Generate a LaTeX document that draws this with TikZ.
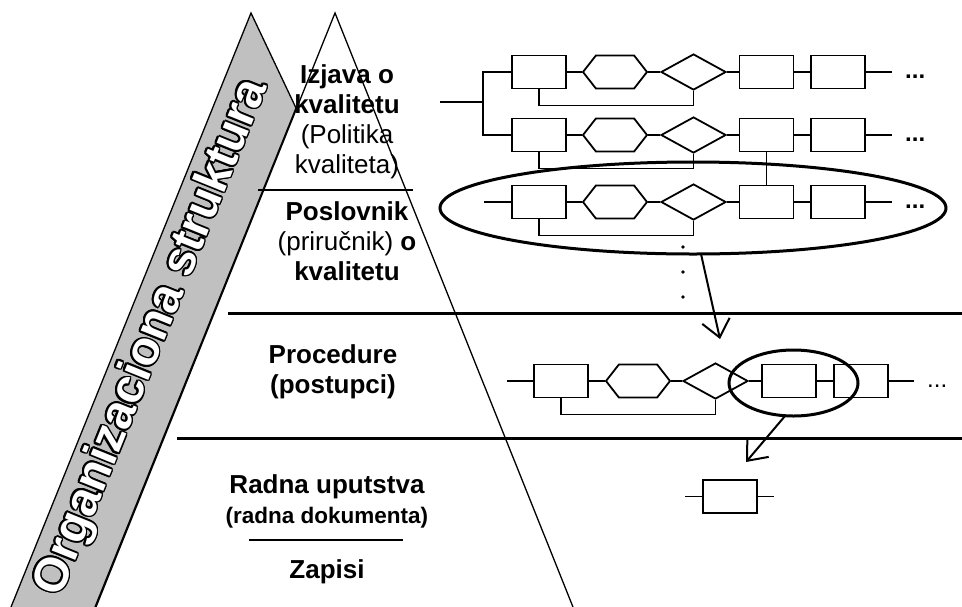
\documentclass[tikz,border=0pt]{standalone}
\usepackage{fontspec}
\setmainfont{Liberation Sans}
\usepackage{contour}
\contourlength{1.7pt}
\usetikzlibrary{shapes.geometric,shapes.symbols,arrows.meta}

\definecolor{bannergray}{RGB}{192,192,192}

\begin{document}
\begin{tikzpicture}[x=1pt,y=-1pt,
  thinline/.style={line width=1.3pt},
  thickline/.style={line width=3pt},
  flow/.style={line width=1.8pt},
  procbox/.style={draw, flow, rectangle, minimum width=54pt, minimum height=33pt, inner sep=0pt},
  hexbox/.style={draw, flow, signal, signal to=east and west, signal pointer angle=104,
                 minimum width=64pt, minimum height=33pt, inner sep=0pt},
  decbox/.style={draw, flow, diamond, minimum width=65pt, minimum height=36pt, inner sep=0pt},
  ring/.style={draw, ellipse, line width=3pt, inner sep=0pt},
  zoomarrow/.style={line width=2pt, -{Straight Barb[length=17pt,width=28pt,line width=2pt]}},
  % multi-line titles are placed by the baseline of their last line
  level/.style={font=\fontsize{26}{30}\selectfont, align=center, inner sep=0pt, anchor=base},
  more/.style={font=\fontsize{24}{24}\selectfont\bfseries, inner sep=0pt, anchor=base west},
]
\useasboundingbox (0,0) rectangle (962,606);

% pyramid of documentation levels
\coordinate (apex) at (335,13);
\coordinate (pyrL) at (94,612);
\coordinate (pyrR) at (575,612);
\draw[thinline] (pyrL) -- (apex) -- (pyrR);

% organisational structure banner
\draw[thinline, fill=bannergray] (251,13) -- (296,108) -- (93,612) -- (9,612) -- cycle;
\node[rotate=68, text=white, inner sep=0pt,
      font=\fontsize{48}{48}\selectfont\bfseries] (org) at (153,338)
      {\contour{black}{Organizaciona struktura}};

% level separators
\draw[thinline]  (258,190) -- (413,190);
\draw[thickline] (228,313) -- (962,313);
\draw[thickline] (177,438) -- (962,438);
\draw[thinline]  (249,540) -- (403,540);

% level titles
\node[level] (izjava) at (347,173)
  {{\bfseries Izjava o}\\{\bfseries kvalitetu}\\(Politika\\kvaliteta)};
\node[level] (poslovnik) at (347,280)
  {{\bfseries Poslovnik}\\(priručnik) {\bfseries o}\\{\bfseries kvalitetu}};
\node[level] (procedure) at (333,393)
  {{\bfseries Procedure}\\{\bfseries (postupci)}};
\node[level] (radna) at (327,523)
  {{\bfseries Radna uputstva}\\{\fontsize{22.5}{27}\selectfont\bfseries (radna dokumenta)}};
\node[level] (zapisi) at (327,578) {\bfseries Zapisi};

% process chains of the quality manual
\foreach \k/\y in {a/72,b/135,c/202}{
  \node[procbox] (s1\k) at (539,\y) {};
  \node[hexbox]  (s2\k) at (615,\y) {};
  \node[decbox]  (s3\k) at (693.5,\y) {};
  \node[procbox] (s4\k) at (766.5,\y) {};
  \node[procbox] (s5\k) at (838,\y) {};
  \coordinate (end\k) at (892,\y);
  \draw[flow] (s1\k.east) -- (s2\k.west) (s2\k.east) -- (s3\k.west)
              (s3\k.east) -- (s4\k.west) (s4\k.east) -- (s5\k.west)
              (s5\k.east) -- (end\k);
  \draw[flow] (s1\k.south) -- ++(0,16) -| (s3\k.south);
  \node[more] (more\k) at (905,\y+6.5) {...};
}
\coordinate (src) at (440,102);
\coordinate (bus) at (484,102);
\coordinate (inc) at (484,202);
\draw[flow] (src) -- (bus);
\draw[flow] (s1a.west) -- ++(-28,0) |- (s1b.west);
\draw[flow] (inc) -- (s1c.west);
\draw[flow] (s4b.south) -- (s4c.north);

% selected chain
\node[ring, minimum width=506pt, minimum height=92pt] (zoomA) at (693,208) {};
\fill (683,247) circle (1.8pt) (683,272) circle (1.8pt) (683,297) circle (1.8pt);
\coordinate (a1s) at (701,254);
\coordinate (a1e) at (720,339);
\draw[zoomarrow] (a1s) -- (a1e);

% procedure chain
\node[procbox] (p1) at (561,381) {};
\node[hexbox]  (p2) at (638,381) {};
\node[decbox]  (p3) at (715.5,381) {};
\node[procbox] (p4) at (789,381) {};
\node[procbox] (p5) at (861,381) {};
\coordinate (pin) at (507,381);
\coordinate (pend) at (914,381);
\draw[flow] (pin) -- (p1.west) (p1.east) -- (p2.west) (p2.east) -- (p3.west)
            (p3.east) -- (p4.west) (p4.east) -- (p5.west) (p5.east) -- (pend);
\draw[flow] (p1.south) -- ++(0,16) -| (p3.south);
\node[font=\fontsize{24}{24}\selectfont, inner sep=0pt, anchor=base west] (pmore) at (927,387) {...};

\node[ring, minimum width=129pt, minimum height=66pt] (zoomB) at (793.5,383) {};
\coordinate (a2s) at (785,416);
\coordinate (a2e) at (746,462);
\draw[zoomarrow] (a2s) -- (a2e);

% single work instruction step
\node[procbox] (w1) at (730,496.5) {};
\coordinate (win) at (685,496.5);
\coordinate (wout) at (774,496.5);
\draw[flow] (win) -- (w1.west) (w1.east) -- (wout);
\end{tikzpicture}
\end{document}
